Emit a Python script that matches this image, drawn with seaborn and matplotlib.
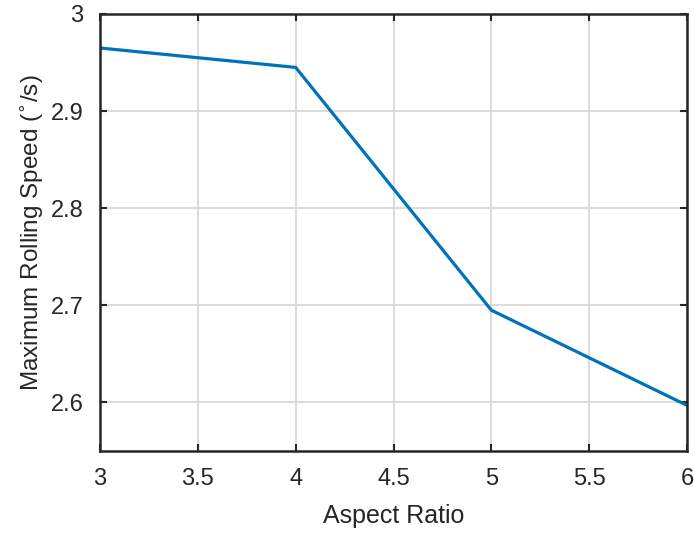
import numpy as np
import pandas as pd
import matplotlib.pyplot as plt
import seaborn as sns

aspect_ratio = [3, 4, 5, 6]
max_speed = [2.965, 2.945, 2.695, 2.597]

df = pd.DataFrame({'Aspect Ratio': aspect_ratio, 'Speed': max_speed})

sns.set_style("white")
plt.rcParams['font.family'] = ['Liberation Sans', 'DejaVu Sans']

fig = plt.figure(figsize=(6.94, 5.37), dpi=100)
ax = fig.add_axes([100/694, 1 - 451/537, 587/694, 437/537])
sns.lineplot(x='Aspect Ratio', y='Speed', data=df, color='#0072BD', linewidth=2.3, ax=ax)
ax.set_xlim(3, 6)
ax.set_ylim(2.55, 3.0)
ax.set_xticks([3, 3.5, 4, 4.5, 5, 5.5, 6])
ax.set_xticklabels(['3', '3.5', '4', '4.5', '5', '5.5', '6'])
ax.set_yticks([2.6, 2.7, 2.8, 2.9, 3.0])
ax.set_yticklabels(['2.6', '2.7', '2.8', '2.9', '3'])
ax.grid(True, color='#d6d6d6', linewidth=1.2)
for s in ax.spines.values():
    s.set_color('#262626')
    s.set_linewidth(1.8)
    s.set_visible(True)
ax.tick_params(direction='in', length=5, width=1.5, colors='#262626', labelsize=17,
               top=True, right=True, bottom=True, left=True, pad=12)
ax.set_xlabel('Aspect Ratio', fontsize=18, color='#262626', labelpad=10)
ax.set_ylabel('Maximum Rolling Speed ($^{\\circ}$/s)', fontsize=17.5, color='#262626', labelpad=3)
fig.savefig('out.png', dpi=100)
